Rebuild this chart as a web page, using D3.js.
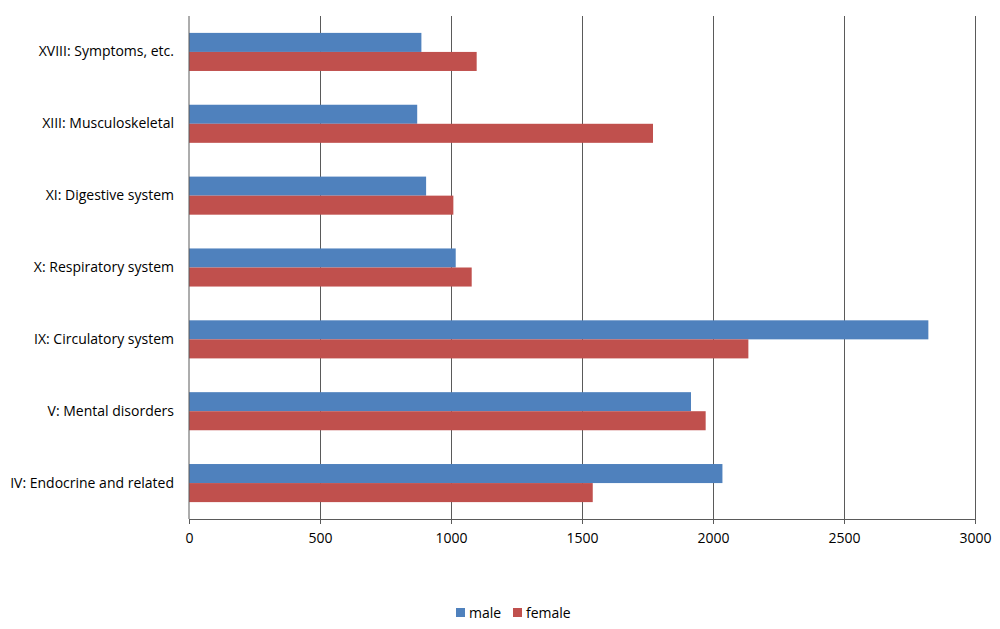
<!DOCTYPE html>
<html><head><meta charset="utf-8">
<script src="https://cdn.jsdelivr.net/npm/d3@7"></script>
<style>body{margin:0;background:#fff}svg{display:block}text{font-family:"Open Sans",sans-serif;fill:#000}</style>
</head><body>
<script>
const categories = ["XVIII: Symptoms, etc.","XIII: Musculoskeletal","XI: Digestive system","X: Respiratory system","IX: Circulatory system","V: Mental disorders","IV: Endocrine and related"];
const male = [887, 871, 905, 1018, 2822, 1916, 2036];
const female = [1098, 1771, 1009, 1079, 2135, 1972, 1541];
const seriesNames = ["male","female"];
const xTicks = [0,500,1000,1500,2000,2500,3000];
const colors = ["#4F81BD","#C0504D"];

(function(){
const W=1000,H=629;
const svg=d3.select("body").append("svg").attr("width",W).attr("height",H);
const pL=189,pR=975,pT=16,pB=519;
const x=d3.scaleLinear().domain([0,3000]).range([pL,pR]);
const y=d3.scaleBand().domain(categories).range([pT,pB]).paddingInner(0.47).paddingOuter(0.235);
const y1=d3.scaleBand().domain(seriesNames).range([0,y.bandwidth()]);
const lineCol="#5a5a5a";

svg.append("g").selectAll("line").data(xTicks.slice(1)).join("line")
  .attr("x1",d=>x(d)).attr("x2",d=>x(d)).attr("y1",pT).attr("y2",pB)
  .attr("stroke",lineCol).attr("stroke-width",1).attr("shape-rendering","crispEdges");

const data=categories.map((c,i)=>({c,vals:[male[i],female[i]]}));
const g=svg.append("g");
data.forEach(d=>{
  d.vals.forEach((v,j)=>{
    g.append("rect").attr("x",x(0)).attr("y",y(d.c)+y1(seriesNames[j]))
     .attr("width",x(v)-x(0)).attr("height",y1.bandwidth()).attr("fill",colors[j]);
  });
});

const xa=svg.append("g").attr("transform",`translate(0,${pB})`)
  .call(d3.axisBottom(x).tickValues(xTicks).tickFormat(d3.format("d")).tickSize(5).tickPadding(9));
xa.select(".domain").attr("stroke",lineCol);
xa.selectAll(".tick line").attr("stroke",lineCol);
xa.selectAll("text").style("font-size","14px").attr("fill","#000");
const ya=svg.append("g").attr("transform",`translate(${pL},0)`)
  .call(d3.axisLeft(y).tickSize(0).tickPadding(15));
ya.select(".domain").attr("stroke",lineCol).attr("d",`M0,${pT}V${pB}`);
ya.selectAll("text").style("font-size","14px").attr("fill","#000");

const lg=svg.append("g");
const items=[{n:"male",x:456},{n:"female",x:513}];
items.forEach((it,j)=>{
  lg.append("rect").attr("x",it.x).attr("y",608).attr("width",9).attr("height",9).attr("fill",colors[j]);
  lg.append("text").attr("x",it.x+13).attr("y",618).style("font-size","14px").text(it.n);
});
})();
</script>
</body></html>
